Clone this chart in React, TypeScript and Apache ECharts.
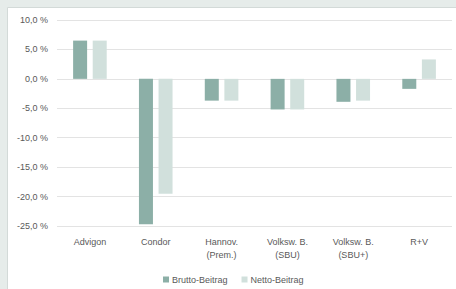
import React, { useEffect, useRef } from "react";
import * as echarts from "echarts";

const categories = ["Advigon", "Condor", "Hannov.\n(Prem.)", "Volksw. B.\n(SBU)", "Volksw. B.\n(SBU+)", "R+V"];
const brutto = [6.5, -24.7, -3.7, -5.2, -3.9, -1.7];
const netto = [6.5, -19.5, -3.7, -5.2, -3.7, 3.3];
const seriesNames = ["Brutto-Beitrag", "Netto-Beitrag"];

const FONT = "'Liberation Sans', sans-serif";
const TXT = "#595959";

export default function App() {
  const ref = useRef<HTMLDivElement>(null);
  useEffect(() => {
    const chart = echarts.init(ref.current!, null, { renderer: "svg" });
    chart.setOption({
      animation: false,
      backgroundColor: "#e6ecea",
      textStyle: { fontFamily: FONT },
      graphic: [
        {
          type: "rect",
          z: -10,
          silent: true,
          shape: { x: 7.5, y: 7.5, width: 460, height: 300 },
          style: { fill: "#ffffff", stroke: "#d3dad8", lineWidth: 1 },
        },
      ],
      grid: { left: 57, right: 4, top: 20, bottom: 63, containLabel: false },
      legend: {
        left: 158,
        top: 270,
        itemWidth: 6,
        itemHeight: 6,
        itemGap: 14,
        icon: "rect",
        textStyle: { fontSize: 9, color: TXT, fontFamily: FONT, padding: [0, 0, 0, -2] },
        data: seriesNames,
      },
      xAxis: {
        type: "category",
        data: categories,
        axisLine: { show: false },
        axisTick: { show: false },
        axisLabel: { fontSize: 9, color: TXT, lineHeight: 12.5, margin: 10, fontFamily: FONT, interval: 0 },
      },
      yAxis: {
        type: "value",
        min: -25,
        max: 10,
        interval: 5,
        axisLine: { show: false },
        axisTick: { show: false },
        splitLine: { lineStyle: { color: "#e3e3e3", width: 1 } },
        axisLabel: {
          fontSize: 9,
          color: TXT,
          margin: 9,
          fontFamily: FONT,
          formatter: (v: number) => v.toFixed(1).replace(".", ",") + " %",
        },
      },
      series: [
        {
          name: seriesNames[0],
          type: "bar",
          data: brutto,
          barWidth: 14,
          barGap: "40%",
          itemStyle: { color: "#8cafa7" },
        },
        {
          name: seriesNames[1],
          type: "bar",
          data: netto,
          barWidth: 14,
          itemStyle: { color: "#d1e0dc" },
        },
      ],
    });
    return () => chart.dispose();
  }, []);
  return (
    <div
      ref={ref}
      style={{ position: "fixed", left: 0, top: 0, width: 456, height: 289 }}
    />
  );
}
